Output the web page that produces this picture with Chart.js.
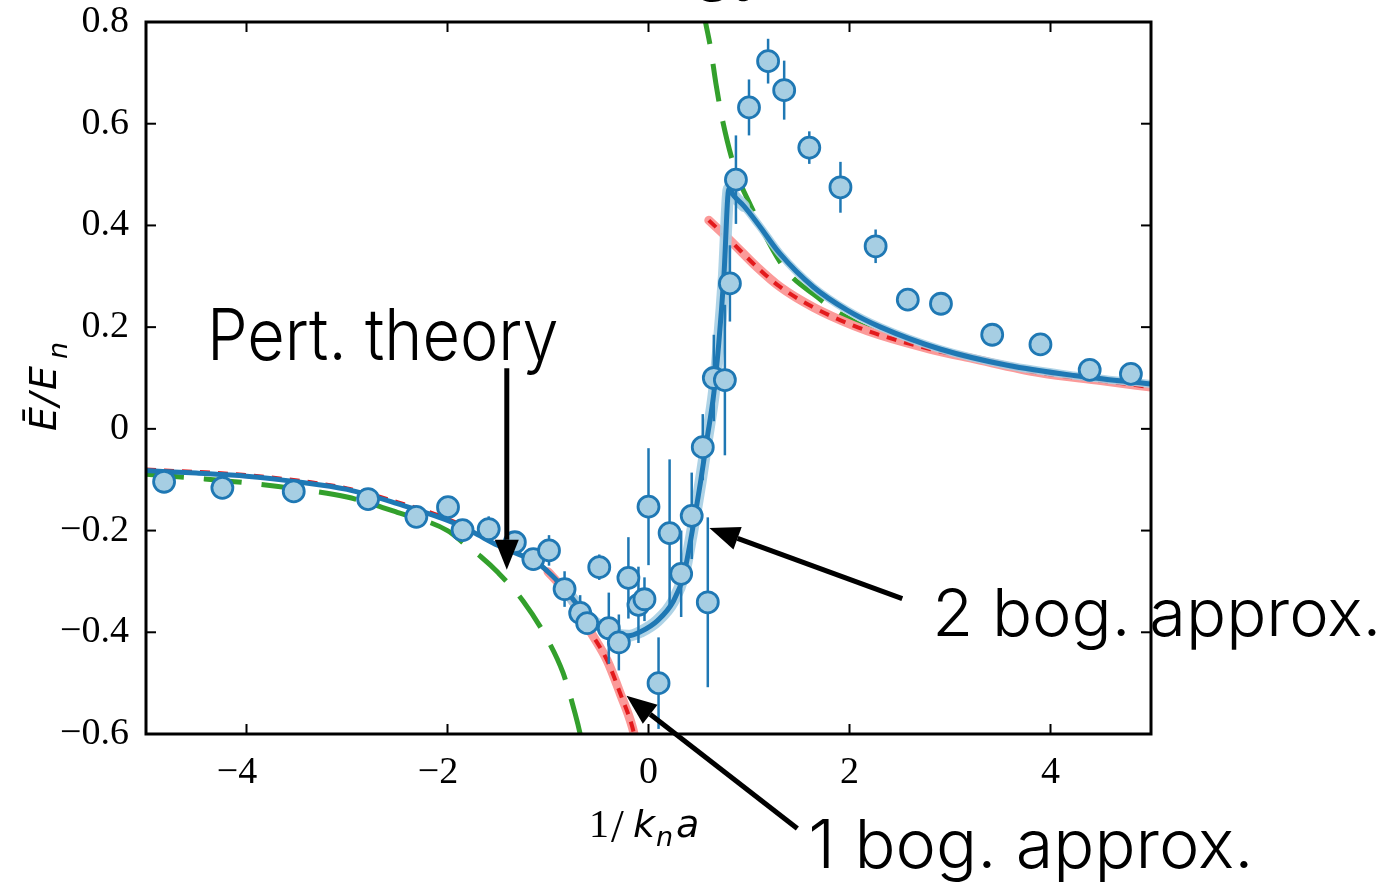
<!DOCTYPE html>
<html><head><meta charset="utf-8">
<script src="https://cdn.jsdelivr.net/npm/chart.js@4.4.1/dist/chart.umd.min.js"></script>
<style>html,body{margin:0;padding:0;background:#fff;overflow:hidden}canvas{display:block}</style>
</head><body>
<canvas id="c" width="1389" height="882"></canvas>
<script>
// ---- tick values and labels ----
const xTicks = [-4, -2, 0, 2, 4];
const xTickLabels = ['\u22124', '\u22122', '0', '2', '4'];
const yTicks = [-0.6, -0.4, -0.2, 0, 0.2, 0.4, 0.6, 0.8];
const yTickLabels = ['\u22120.6', '\u22120.4', '\u22120.2', '0', '0.2', '0.4', '0.6', '0.8'];

// ---- measured points (1/k_n a, E/E_n, error) ----
const measX = [-4.82, -4.24, -3.53, -2.79, -2.31, -1.995, -1.85, -1.59, -1.33, -1.146, -0.99, -0.835, -0.68, -0.61, -0.49, -0.395, -0.295, -0.20, -0.10, -0.04, 0.0, 0.10, 0.21, 0.325, 0.43, 0.54, 0.59, 0.65, 0.76, 0.81, 0.87, 1.0, 1.19, 1.35, 1.60, 1.91, 2.26, 2.58, 2.91, 3.42, 3.90, 4.39, 4.80];
const measY = [-0.104, -0.116, -0.123, -0.138, -0.173, -0.154, -0.199, -0.197, -0.223, -0.256, -0.239, -0.315, -0.362, -0.382, -0.272, -0.392, -0.420, -0.293, -0.346, -0.335, -0.153, -0.500, -0.205, -0.285, -0.171, -0.036, -0.341, 0.100, 0.096, 0.286, 0.490, 0.632, 0.723, 0.666, 0.553, 0.475, 0.359, 0.254, 0.246, 0.185, 0.166, 0.116, 0.108];
const measErr = [0, 0, 0, 0, 0, 0, 0, 0.025, 0, 0, 0.03, 0.035, 0.035, 0, 0.025, 0.07, 0.055, 0.08, 0.075, 0.043, 0.115, 0.09, 0.145, 0.085, 0.085, 0.065, 0.167, 0.085, 0.148, 0.075, 0.087, 0.055, 0.044, 0.058, 0.032, 0.05, 0.033, 0.015, 0, 0, 0, 0, 0];

// ---- 2 bog. approx. (solid blue) ----
const bogTwoX = [-5, -4.5, -4, -3.5, -3, -2.5, -2, -1.75, -1.5, -1.25, -1.1, -1.0, -0.84, -0.64, -0.44, -0.3, -0.2, -0.08, 0.09, 0.25, 0.35, 0.43, 0.52, 0.58, 0.65, 0.70, 0.75, 0.80, 0.85, 0.95, 1.1, 1.31, 1.64, 1.98, 2.31, 2.9, 3.57, 4.23, 5.0];
const bogTwoY = [-0.082, -0.087, -0.093, -0.104, -0.119, -0.147, -0.180, -0.203, -0.229, -0.250, -0.264, -0.281, -0.313, -0.362, -0.393, -0.405, -0.407, -0.399, -0.377, -0.338, -0.288, -0.207, -0.102, -0.023, 0.07, 0.17, 0.30, 0.472, 0.458, 0.438, 0.40, 0.344, 0.279, 0.233, 0.200, 0.157, 0.125, 0.105, 0.088];

// ---- 1 bog. approx. (red dashed) ----
const bogOneLeftX = [-5, -4, -3, -2.5, -2, -1.5, -1.25, -1.0, -0.875, -0.75, -0.58, -0.41, -0.28, -0.16, -0.10];
const bogOneLeftY = [-0.080, -0.091, -0.117, -0.144, -0.177, -0.226, -0.248, -0.281, -0.308, -0.340, -0.398, -0.456, -0.521, -0.587, -0.64];
const bogOneRightX = [0.6, 0.815, 1.08, 1.31, 1.64, 2.04, 2.31, 2.8, 3.23, 3.9, 4.5, 5.0];
const bogOneRightY = [0.41, 0.370, 0.318, 0.279, 0.239, 0.203, 0.184, 0.157, 0.138, 0.110, 0.095, 0.082];

// ---- Pert. theory (green dashed) ----
const pertLeftX = [-5, -4.5, -4, -3.5, -3, -2.5, -2, -1.82, -1.67, -1.5, -1.25, -1.0, -0.85, -0.73, -0.68, -0.64];
const pertLeftY = [-0.089, -0.097, -0.106, -0.118, -0.134, -0.164, -0.200, -0.228, -0.251, -0.282, -0.338, -0.416, -0.48, -0.56, -0.60, -0.64];
const pertRightX = [0.54, 0.567, 0.616, 0.67, 0.73, 0.865, 1.0, 1.345, 1.68, 1.91, 2.27, 3.0, 4.0, 5.0];
const pertRightY = [0.83, 0.80, 0.751, 0.68, 0.613, 0.508, 0.446, 0.318, 0.259, 0.226, 0.19, 0.148, 0.110, 0.086];

// ---- annotations (data coordinates) ----
const noteTexts = ['Pert. theory', '2 bog. approx.', '1 bog. approx.'];
const noteX = [-4.394, 2.823, 1.59];
const noteY = [0.136, -0.407, -0.863];
const noteWidth = [3.5, 4.47, 4.43];
const noteSize = [71, 66, 67];
const arrowFrom = [[-1.41, 0.119], [2.525, -0.334], [1.481, -0.786]];
const arrowTo = [[-1.41, -0.277], [0.606, -0.195], [-0.219, -0.525]];

const pts = (xs, ys) => xs.map((v, i) => ({x: v, y: ys[i]}));

const BLUE = '#1f78b4', LBLUE = '#a6cee3', RED = '#e31a1c', PINK = '#fb9a99', GREEN = '#33a02c';
const ANN_FONT = '"Inter", "Roboto", "Helvetica Neue", "Liberation Sans", sans-serif';

const errorBars = {
  id: 'errorBars',
  beforeDatasetDraw(chart, args) {
    if (args.index !== 0) return;
    const {ctx, scales: {x, y}} = chart;
    ctx.save();
    ctx.strokeStyle = BLUE; ctx.lineWidth = 2.5;
    measX.forEach((v, i) => {
      if (!measErr[i]) return;
      const px = x.getPixelForValue(v);
      ctx.beginPath();
      ctx.moveTo(px, y.getPixelForValue(measY[i] - measErr[i]));
      ctx.lineTo(px, y.getPixelForValue(measY[i] + measErr[i]));
      ctx.stroke();
    });
    ctx.restore();
  }
};

function arrow(ctx, x1, y1, x2, y2) {
  const L = 30, W = 12;
  const ang = Math.atan2(y2 - y1, x2 - x1);
  const bx = x2 - L * Math.cos(ang), by = y2 - L * Math.sin(ang);
  ctx.beginPath(); ctx.moveTo(x1, y1); ctx.lineTo(bx, by); ctx.stroke();
  ctx.beginPath();
  ctx.moveTo(x2, y2);
  ctx.lineTo(bx + W * Math.sin(ang), by - W * Math.cos(ang));
  ctx.lineTo(bx - W * Math.sin(ang), by + W * Math.cos(ang));
  ctx.closePath(); ctx.fill();
}

const decor = {
  id: 'decor',
  afterDraw(chart) {
    const {ctx, chartArea: a, scales: {x, y}} = chart;
    ctx.save();
    // inward ticks on all four sides
    ctx.strokeStyle = '#000'; ctx.lineWidth = 2;
    x.ticks.forEach(t => {
      const px = x.getPixelForValue(t.value);
      ctx.beginPath(); ctx.moveTo(px, a.bottom); ctx.lineTo(px, a.bottom - 10); ctx.stroke();
      ctx.beginPath(); ctx.moveTo(px, a.top); ctx.lineTo(px, a.top + 10); ctx.stroke();
    });
    y.ticks.forEach(t => {
      const py = y.getPixelForValue(t.value);
      ctx.beginPath(); ctx.moveTo(a.left, py); ctx.lineTo(a.left + 10, py); ctx.stroke();
      ctx.beginPath(); ctx.moveTo(a.right, py); ctx.lineTo(a.right - 10, py); ctx.stroke();
    });
    ctx.lineWidth = 3;
    ctx.strokeRect(a.left, a.top, a.right - a.left, a.bottom - a.top);

    // annotations
    ctx.fillStyle = '#000'; ctx.strokeStyle = '#000'; ctx.lineWidth = 5;
    arrowFrom.forEach((f, i) => {
      arrow(ctx, x.getPixelForValue(f[0]), y.getPixelForValue(f[1]),
                 x.getPixelForValue(arrowTo[i][0]), y.getPixelForValue(arrowTo[i][1]));
    });
    ctx.textBaseline = 'alphabetic'; ctx.textAlign = 'left';
    noteTexts.forEach((t, i) => {
      ctx.font = '300 ' + noteSize[i] + 'px ' + ANN_FONT;
      const px = x.getPixelForValue(noteX[i]), py = y.getPixelForValue(noteY[i]);
      const target = x.getPixelForValue(noteX[i] + noteWidth[i]) - px;
      const m = ctx.measureText(t).width;
      ctx.save(); ctx.translate(px, py); ctx.scale(target / m, 1);
      ctx.fillText(t, 0, 0); ctx.restore();
    });
    // cropped title at the very top
    ctx.font = '300 70px ' + ANN_FONT;
    const pre = ctx.measureText('Ener').width;
    ctx.fillText('Energy', 693 - pre, -13);

    // x axis title: 1/k_n a
    ctx.font = '40px "Liberation Serif", serif';
    ctx.fillText('1', 589, 837);
    ctx.font = '46px "Liberation Serif", serif';
    ctx.fillText('/', 611, 842);
    ctx.font = 'italic 38px "DejaVu Sans", sans-serif';
    ctx.fillText('k', 633, 837);
    ctx.font = 'italic 27px "DejaVu Sans", sans-serif';
    ctx.fillText('n', 656, 846);
    ctx.font = 'italic 38px "DejaVu Sans", sans-serif';
    ctx.fillText('a', 676, 837);

    // y axis title: Ē/E_n (rotated)
    ctx.save();
    ctx.translate(56, 431); ctx.rotate(-Math.PI / 2);
    ctx.font = 'italic 38px "DejaVu Sans", sans-serif';
    ctx.fillText('\u0112', 0, 0);
    ctx.fillText('/', 25, 0);
    ctx.fillText('E', 41, 0);
    ctx.font = 'italic 27px "DejaVu Sans", sans-serif';
    ctx.fillText('n', 72, 11);
    ctx.restore();

    ctx.restore();
  }
};

const lineDs = (data, color, width, order, dash) => ({
  type: 'scatter', data, showLine: true, borderColor: color, backgroundColor: color,
  borderWidth: width, pointRadius: 0, borderDash: dash || [], order,
  borderCapStyle: dash ? 'butt' : 'round', borderJoinStyle: 'round',
  cubicInterpolationMode: 'monotone'
});

new Chart(document.getElementById('c'), {
  type: 'scatter',
  data: {
    datasets: [
      {data: pts(measX, measY), pointRadius: 10.5, pointBackgroundColor: LBLUE,
       pointBorderColor: BLUE, pointBorderWidth: 2.8, showLine: false, order: 0},
      lineDs(pts(bogTwoX, bogTwoY), BLUE, 5, 1),
      lineDs(pts(bogTwoX, bogTwoY).filter(p => p.x > -0.9 && p.x < 1.0), 'rgba(166,206,227,0.9)', 12, 2),
      lineDs(pts(bogTwoX, bogTwoY).filter(p => p.x > 0.7), 'rgba(166,206,227,0.9)', 8, 2),
      lineDs(pts(bogOneLeftX, bogOneLeftY), RED, 4, 3, [10, 8]),
      lineDs(pts(bogOneRightX, bogOneRightY), RED, 4, 3, [10, 8]),
      lineDs(pts(bogOneLeftX, bogOneLeftY).filter(p => p.x > -1.2), PINK, 9, 4),
      lineDs(pts(bogOneRightX, bogOneRightY), PINK, 9, 4),
      lineDs(pts(pertLeftX, pertLeftY), GREEN, 5, 5, [38, 20]),
      lineDs(pts(pertRightX, pertRightY), GREEN, 5, 5, [38, 20])
    ]
  },
  options: {
    responsive: false, devicePixelRatio: 1, animation: false, events: [],
    layout: {padding: {top: 22, right: 238, left: 0, bottom: 0}},
    plugins: {legend: {display: false}, tooltip: {enabled: false}},
    scales: {
      x: {
        type: 'linear', min: -5, max: 5,
        grid: {display: false, drawTicks: false}, border: {display: false},
        afterBuildTicks: s => { s.ticks = xTicks.map(v => ({value: v})); },
        afterFit: s => { s.height = 148; s.paddingLeft = 0; s.paddingRight = 0; },
        ticks: {
          color: '#000', padding: 16, maxRotation: 0, autoSkip: false,
          font: {family: '"Liberation Serif", "Times New Roman", serif', size: 38},
          callback: v => { const l = xTickLabels[xTicks.indexOf(v)]; return v < 0 ? l + '\u2002' : l; }
        }
      },
      y: {
        type: 'linear', min: -0.6, max: 0.8,
        grid: {display: false, drawTicks: false}, border: {display: false},
        afterBuildTicks: s => { s.ticks = yTicks.map(v => ({value: v})); },
        afterFit: s => { s.width = 146; s.paddingTop = 0; s.paddingBottom = 0; },
        ticks: {
          color: '#000', padding: 17, autoSkip: false,
          font: {family: '"Liberation Serif", "Times New Roman", serif', size: 38},
          callback: v => yTickLabels[yTicks.findIndex(t => Math.abs(t - v) < 1e-9)]
        }
      }
    }
  },
  plugins: [errorBars, decor]
});
</script></body></html>
